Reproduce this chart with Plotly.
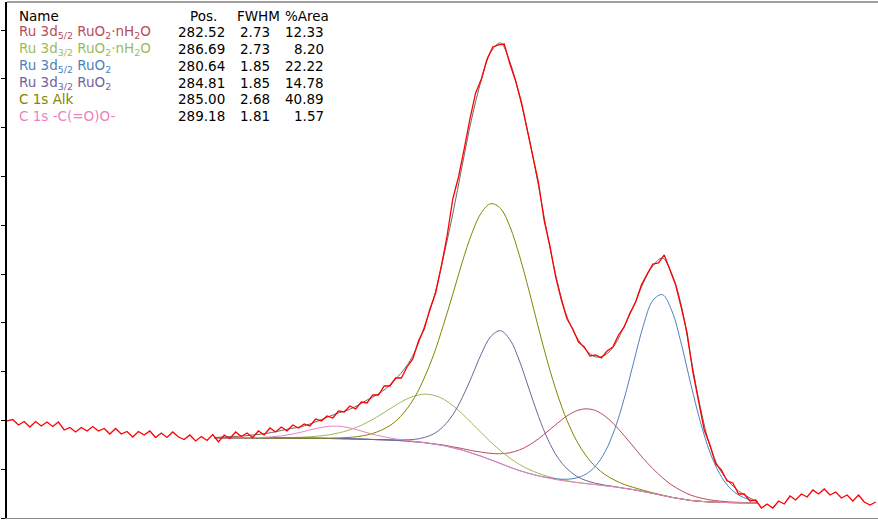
import plotly.graph_objects as go

# Ru 3d / C 1s region: measured spectrum, binding energy (eV) vs counts per second
scan_start = 297.8
scan_step = 0.15
counts = [
    1989, 2019, 1906, 1978, 1866, 1978, 1886, 1968, 1876, 1968,
    1804, 1855, 1763, 1855, 1784, 1876, 1784, 1835, 1722, 1835,
    1722, 1773, 1661, 1773, 1702, 1784, 1650, 1743, 1650, 1763,
    1661, 1609, 1702, 1579, 1671, 1589, 1712, 1558, 1702, 1630,
    1763, 1671, 1743, 1650, 1784, 1702, 1845, 1763, 1866, 1784,
    1906, 1845, 1927, 1886, 2030, 1989, 2091, 2050, 2194, 2173,
    2296, 2235, 2378, 2358, 2522, 2522, 2706, 2706, 2870, 2870,
    3096, 3260, 3629, 3875, 4285, 4613, 5166, 5781, 6540, 6991,
    7565, 8180, 8713, 9000, 9410, 9656, 9697, 9717, 9307, 8959,
    8528, 7975, 7360, 6868, 6089, 5576, 4941, 4469, 4080, 3875,
    3608, 3506, 3321, 3342, 3280, 3424, 3506, 3752, 3916, 4203,
    4428, 4777, 5002, 5207, 5228, 5392, 5084, 4777, 4305, 3793,
    2993, 2419, 1804, 1497, 1107, 984, 759, 718, 492, 492,
    349, 369, 205, 287, 205, 349, 287, 451, 369, 492,
    431, 574, 492, 595, 472, 533, 410, 472, 349, 472,
    328, 267, 328,
]

# fit region grid, Shirley background and envelope
fit_start = 292.35
fit_step = 0.25
background = [
    1640, 1640, 1640, 1640, 1640, 1640, 1640, 1639, 1638, 1637,
    1636, 1633, 1630, 1627, 1624, 1619, 1613, 1607, 1601, 1591,
    1581, 1562, 1544, 1515, 1486, 1441, 1392, 1328, 1265, 1191,
    1117, 1041, 972, 914, 863, 820, 781, 752, 726, 703,
    683, 660, 638, 609, 580, 543, 504, 463, 422, 390,
    359, 342, 328, 322, 316, 312, 310, 308,
]
envelope = [
    1650, 1661, 1671, 1681, 1702, 1722, 1753, 1794, 1835, 1866,
    1927, 1999, 2081, 2153, 2214, 2306, 2419, 2522, 2655, 2850,
    3075, 3403, 3916, 4510, 5330, 6232, 7237, 8200, 8979, 9553,
    9738, 9348, 8651, 7790, 6806, 5740, 4818, 4121, 3711, 3444,
    3301, 3342, 3547, 3936, 4346, 4818, 5166, 5330, 5002, 4346,
    3280, 2255, 1476, 1005, 738, 554, 431, 328,
]

# component intensities above the background, same grid
ru52_hyd = [
    0, 0, 0, 0, 0, 0, 0, 0, 0, 0,
    0, 0, 0, 0, 0, 0, 0, 0, 0, 0,
    0, 0, 3, 6, 10, 18, 32, 52, 85, 134,
    201, 297, 423, 578, 761, 963, 1163, 1341, 1472, 1535,
    1518, 1426, 1269, 1078, 875, 677, 508, 365, 252, 169,
    109, 69, 43, 25, 14, 8, 5, 3,
]
ru32_hyd = [
    0, 0, 1, 1, 2, 2, 3, 5, 10, 18,
    29, 48, 75, 117, 172, 248, 345, 459, 588, 721,
    843, 940, 996, 1001, 953, 863, 744, 612, 481, 363,
    265, 186, 126, 82, 52, 31, 19, 11, 6, 3,
    2, 1, 0, 0, 0, 0, 0, 0, 0, 0,
    0, 0, 0, 0, 0, 0, 0, 0,
]
ru52_ox = [
    0, 0, 0, 0, 0, 0, 0, 0, 0, 0,
    0, 0, 0, 0, 0, 0, 0, 0, 0, 0,
    0, 0, 0, 0, 0, 0, 0, 0, 0, 0,
    0, 0, 0, 0, 0, 7, 18, 43, 95, 198,
    387, 701, 1183, 1842, 2621, 3396, 3956, 4116, 3824, 3173,
    2374, 1624, 1018, 589, 317, 160, 76, 32,
]
ru32_ox = [
    0, 0, 0, 0, 0, 0, 0, 0, 0, 0,
    0, 0, 0, 0, 0, 0, 0, 0, 4, 9,
    21, 50, 106, 211, 390, 674, 1077, 1576, 2100, 2531,
    2723, 2615, 2247, 1734, 1219, 783, 464, 256, 131, 63,
    29, 12, 5, 0, 0, 0, 0, 0, 0, 0,
    0, 0, 0, 0, 0, 0, 0, 0,
]
c1s_alk = [
    0, 0, 0, 0, 0, 0, 0, 0, 0, 0,
    0, 4, 8, 15, 27, 50, 90, 153, 248, 391,
    612, 913, 1325, 1837, 2460, 3146, 3859, 4503, 4994, 5253,
    5231, 4931, 4403, 3748, 3030, 2344, 1742, 1246, 855, 570,
    364, 227, 137, 79, 45, 25, 13, 7, 3, 0,
    0, 0, 0, 0, 0, 0, 0, 0,
]
c1s_coo = [
    0, 0, 1, 3, 6, 12, 24, 45, 76, 118,
    169, 216, 249, 254, 230, 187, 136, 90, 55, 31,
    16, 8, 3, 1, 0, 0, 0, 0, 0, 0,
    0, 0, 0, 0, 0, 0, 0, 0, 0, 0,
    0, 0, 0, 0, 0, 0, 0, 0, 0, 0,
    0, 0, 0, 0, 0, 0, 0, 0,
]

# quantification table
names = [
    "Ru 3d<sub>5/2</sub> RuO<sub>2</sub>·nH<sub>2</sub>O",
    "Ru 3d<sub>3/2</sub> RuO<sub>2</sub>·nH<sub>2</sub>O",
    "Ru 3d<sub>5/2</sub> RuO<sub>2</sub>",
    "Ru 3d<sub>3/2</sub> RuO<sub>2</sub>",
    "C 1s Alk",
    "C 1s -C(=O)O-",
]
positions = [282.52, 286.69, 280.64, 284.81, 285.00, 289.18]
fwhm = [2.73, 2.73, 1.85, 1.85, 2.68, 1.81]
areas = [12.33, 8.20, 22.22, 14.78, 40.89, 1.57]
colors = ['#B84C5C', '#9BBB59', '#4F81BD', '#6E63A0', '#858500', '#EE82BE']
components = [ru52_hyd, ru32_hyd, ru52_ox, ru32_ox, c1s_alk, c1s_coo]

be_scan = [scan_start - scan_step * i for i in range(len(counts))]
be_fit = [fit_start - fit_step * i for i in range(len(background))]

fig = go.Figure()

for comp, col in zip(components, colors):
    fig.add_trace(go.Scatter(x=be_fit, y=[b + c for b, c in zip(background, comp)],
                             mode='lines', line={'color': col, 'width': 1, 'shape': 'spline'},
                             showlegend=False))

fig.add_trace(go.Scatter(x=be_fit, y=envelope, mode='lines',
                         line={'color': '#6a6a6a', 'width': 1, 'shape': 'spline'}, showlegend=False))
fig.add_trace(go.Scatter(x=be_scan, y=counts, mode='lines',
                         line={'color': '#ff0000', 'width': 1.3}, showlegend=False))

# pixel helpers for the table overlay (plot area 7..878 x 2..518)
def px(x):
    return (x - 7) / 871


def py(y):
    return (518 - y) / 516


font = dict(family="DejaVu Sans, Verdana, sans-serif", size=13.5)
annotations = [
    dict(text="Name", x=px(17), xanchor='left', y=py(15.7)),
    dict(text="Pos.", x=px(203), xanchor='center', y=py(15.7)),
    dict(text="FWHM", x=px(258), xanchor='center', y=py(15.7)),
    dict(text="%Area", x=px(307), xanchor='center', y=py(15.7)),
]
for a in annotations:
    a['font'] = dict(font, color='black')

for i in range(len(names)):
    yy = py(32.4 + 16.7 * i)
    annotations.append(dict(text=names[i], x=px(17), xanchor='left', y=yy,
                            font=dict(font, color=colors[i])))
    annotations.append(dict(text="%.2f" % positions[i], x=px(227), xanchor='right', y=yy,
                            font=dict(font, color='black')))
    annotations.append(dict(text="%.2f" % fwhm[i], x=px(272), xanchor='right', y=yy,
                            font=dict(font, color='black')))
    annotations.append(dict(text="%.2f" % areas[i], x=px(326), xanchor='right', y=yy,
                            font=dict(font, color='black')))

for a in annotations:
    a.update(xref='paper', yref='paper', yanchor='middle', showarrow=False)

fig.update_layout(
    width=878, height=520,
    margin={"l": 7, "r": 0, "t": 2, "b": 2},
    plot_bgcolor='white', paper_bgcolor='white',
    xaxis={'range': [297.8, 274.94], 'showgrid': False, 'zeroline': False,
           'showticklabels': False, 'showline': True, 'linecolor': '#8a8a8a', 'linewidth': 1},
    yaxis={'range': [0, 10578], 'showgrid': False, 'zeroline': False, 'showticklabels': False,
           'showline': True, 'linecolor': 'black', 'linewidth': 1.5,
           'ticks': 'outside', 'ticklen': 4, 'tickcolor': 'black', 'dtick': 1000},
    annotations=annotations,
    shapes=[dict(type='line', xref='paper', yref='paper', x0=0, x1=1, y0=1, y1=1,
                 line=dict(color='#404040', width=1))],
    showlegend=False,
)

# page body has a default 8px margin; drop it so the figure sits at the window origin
fig.write_html("out.html", config={'displayModeBar': False},
               post_script="document.body.style.margin='0';")
